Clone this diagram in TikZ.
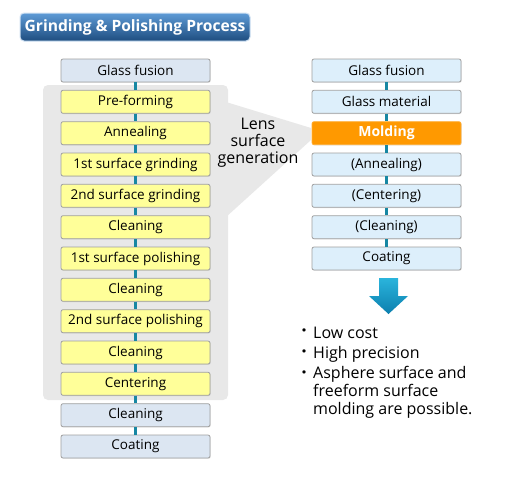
\documentclass[tikz,border=0pt]{standalone}
\usepackage{fontspec}
\setmainfont{Open Sans}
\newfontfamily\cjk{Noto Sans CJK JP}
\usetikzlibrary{shadows}
\definecolor{yellowfill}{HTML}{FFFF99}
\definecolor{bluefill}{HTML}{DCE6F2}
\definecolor{rbluefill}{HTML}{DDEFFB}
\definecolor{boxborder}{HTML}{A0A0A0}
\definecolor{linkcol}{HTML}{1787A3}
\definecolor{graycol}{HTML}{E8E8E8}
\definecolor{moldcol}{HTML}{FF9900}
\definecolor{titletop}{HTML}{5E9BD6}
\definecolor{titlebot}{HTML}{1E4D80}
\definecolor{arrowlight}{HTML}{2AB4DC}
\definecolor{arrowdark}{HTML}{0C7FAE}
\tikzset{
  box/.style={draw=boxborder, line width=0.8pt, rounded corners=2pt,
    minimum width=149pt, minimum height=23pt, inner sep=0pt,
    font=\fontsize{13.5}{16}\selectfont, text=black,
    drop shadow={shadow xshift=0.7pt, shadow yshift=-0.7pt, opacity=0.25}},
  yel/.style={box, fill=yellowfill},
  blu/.style={box, fill=bluefill},
  rblu/.style={box, fill=rbluefill},
  mold/.style={box, fill=moldcol, draw=moldcol!80!white, text=white, font=\fontsize{14}{16}\selectfont\bfseries},
  link/.style={draw=linkcol, line width=3pt},
  titlebox/.style={draw=white!70!titletop, line width=1pt, rounded corners=4pt,
    top color=titletop, bottom color=titlebot, minimum width=230pt, minimum height=28pt,
    inner sep=0pt, text=white, font=\fontsize{15.6}{18}\selectfont\bfseries},
  bul/.style={font=\fontsize{16}{18}\selectfont, inner sep=0pt, text=black},
  lens/.style={font=\fontsize{16}{17}\selectfont, align=center, inner sep=0pt, text=black}
}
\begin{document}
\begin{tikzpicture}[x=1pt,y=-1pt]
\useasboundingbox (0,0) rectangle (520,480);
\fill[white] (0,0) rectangle (520,480);
% gray region
\fill[graycol, rounded corners=5pt] (43,85) rectangle (228,400);
\fill[graycol] (226,102) -- (311,128) -- (311,140) -- (226,217) -- cycle;
\node[lens] (lensgen) at (258,143) {Lens\\surface\\generation};
% title
\node[titlebox] (title) at (135,27) {Grinding \& Polishing Process};
% left column
\node[blu] (L1) at (135.5,70.5) {Glass fusion};
\node[yel] (L2) at (135.5,101.8) {Pre-forming};
\node[yel] (L3) at (135.5,133.2) {Annealing};
\node[yel] (L4) at (135.5,164.5) {1st surface grinding};
\node[yel] (L5) at (135.5,195.8) {2nd surface grinding};
\node[yel] (L6) at (135.5,227.2) {Cleaning};
\node[yel] (L7) at (135.5,258.5) {1st surface polishing};
\node[yel] (L8) at (135.5,289.8) {Cleaning};
\node[yel] (L9) at (135.5,321.2) {2nd surface polishing};
\node[yel] (L10) at (135.5,352.5) {Cleaning};
\node[yel] (L11) at (135.5,383.8) {Centering};
\node[blu] (L12) at (135.5,415.2) {Cleaning};
\node[blu] (L13) at (135.5,446.5) {Coating};
\foreach \a/\b in {L1/L2,L2/L3,L3/L4,L4/L5,L5/L6,L6/L7,L7/L8,L8/L9,L9/L10,L10/L11,L11/L12,L12/L13}
  \draw[link] (\a.south) -- (\b.north);
% right column
\node[rblu] (R1) at (386.5,70.5) {Glass fusion};
\node[rblu] (R2) at (386.5,101.8) {Glass material};
\node[mold] (R3) at (386.5,133.2) {Molding};
\node[rblu] (R4) at (386.5,164.5) {(Annealing)};
\node[rblu] (R5) at (386.5,195.8) {(Centering)};
\node[rblu] (R6) at (386.5,227.2) {(Cleaning)};
\node[rblu] (R7) at (386.5,258.5) {Coating};
\foreach \a/\b in {R1/R2,R2/R3,R3/R4,R4/R5,R5/R6,R6/R7}
  \draw[link] (\a.south) -- (\b.north);
% arrow
\shade[top color=arrowlight, bottom color=arrowdark]
  (379,278) -- (398,278) -- (398,296) -- (408,296) -- (388.5,314) -- (369,296) -- (379,296) -- cycle;
% bullets
\node[bul] (b1) at (304,333) {\cjk ・};
\node[bul] (b2) at (304,354) {\cjk ・};
\node[bul] (b3) at (304,375) {\cjk ・};
\node[bul, anchor=west] (t1) at (313,333) {Low cost};
\node[bul, anchor=west] (t2) at (313,354) {High precision};
\node[bul, anchor=north west, align=left] (t3) at (313,366) {Asphere surface and\\freeform surface\\molding are possible.};
\end{tikzpicture}
\end{document}
